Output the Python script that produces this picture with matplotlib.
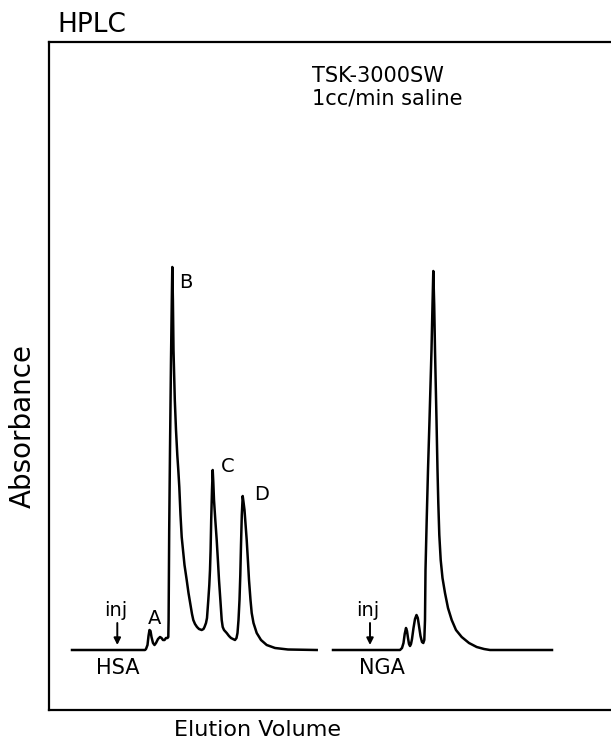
import matplotlib.pyplot as plt

# HSA chromatogram (elution volume, absorbance)
hsa_vol = [23, 96, 97, 98.5, 99.5, 100.5, 101.5, 102.5, 104, 105.5, 107, 109, 111,
           112.5, 114, 115.5, 117, 118.5, 119.3, 119.6, 120.2, 121, 122, 122.8,
           123.3, 123.9, 124.5, 125.8, 127, 128.3, 129.3, 130.3, 131.5, 132.7, 134,
           135.5, 137.7, 139.5, 141, 143, 144.3, 146, 148, 150, 152.7, 154.5, 155.5,
           157, 158, 159.3, 160.3, 161, 161.6, 162.2, 163, 163.7, 164.3, 165, 166.3,
           167.7, 169, 170, 171.5, 172.7, 173.7, 175, 177.7, 180, 182, 184, 186,
           187.5, 188.5, 189.5, 190.5, 191.3, 192, 192.8, 193.7, 194.5, 195.5, 196.6,
           197.7, 199, 200, 201.5, 202.7, 204.5, 207.7, 212, 217.7, 226, 239, 267.7]
hsa_abs = [0, 0, 1, 5, 14, 20, 19, 13, 7, 5, 7, 11, 13,
           12, 10, 10, 12, 12, 13, 30, 120, 200, 290, 350,
           383, 350, 300, 250, 220, 195, 180, 163, 135, 113, 100,
           85, 70, 57, 48, 36, 30, 26, 23, 21, 20, 21, 23,
           27, 32, 50, 65, 80, 100, 130, 160, 180, 168, 150, 130,
           110, 88, 70, 48, 30, 23, 20, 17, 14, 12, 11, 10,
           12, 17, 30, 50, 75, 105, 135, 154, 148, 140, 125,
           110, 88, 70, 50, 37, 27, 17, 10, 5, 2, 0.5, 0]

# NGA chromatogram
nga_vol = [284, 351, 353, 354.5, 355.7, 357, 358, 359, 360, 361, 362, 363, 364.5,
           366, 367.5, 368.8, 370, 371.5, 373, 374.3, 375.3, 376, 376.5, 377.7, 379,
           380.5, 382.5, 383.5, 384.3, 385.2, 386, 387.5, 388.5, 389.3, 390.3, 391.7,
           393.5, 396, 399, 402.7, 407, 412.7, 420, 427.7, 435, 441, 503]
nga_abs = [0, 0, 2, 7, 16, 22, 19, 12, 6, 4, 6, 11, 22,
           31, 35, 32, 24, 14, 8, 7, 10, 30, 80, 130, 180,
           230, 300, 345, 379, 345, 300, 230, 180, 147, 115, 90,
           72, 57, 42, 30, 20, 13, 7, 3, 1, 0, 0]

peak_names = ['A', 'B', 'C', 'D']
peak_pos = [(106, 31), (137, 367), (179, 183), (213, 155)]
inj_vol = [68.3, 321]
sample_names = ['HSA', 'NGA']
sample_pos = [69, 333]

fig = plt.figure(figsize=(6.11, 7.44), dpi=100)
ax = fig.add_axes([49 / 611, 34 / 744, 1 - 49 / 611, (710 - 42) / 744])
ax.set_xlim(0, 562)
ax.set_ylim(-60, 608)
for side in ['left', 'top', 'bottom']:
    ax.spines[side].set_linewidth(1.6)
ax.spines['right'].set_visible(False)
ax.set_xticks([])
ax.set_yticks([])

ax.plot(hsa_vol, hsa_abs, color='black', lw=1.8, solid_joinstyle='round')
ax.plot(nga_vol, nga_abs, color='black', lw=1.8, solid_joinstyle='round')

for name, (px, py) in zip(peak_names, peak_pos):
    ax.text(px, py, name, fontsize=14, ha='center', va='center')

for v, name, sx in zip(inj_vol, sample_names, sample_pos):
    ax.annotate('', xy=(v, 5), xytext=(v, 27),
                arrowprops=dict(arrowstyle='-|>', color='black', lw=1.4,
                                mutation_scale=10, shrinkA=0, shrinkB=0))
    ax.text(v - 2, 39, 'inj', fontsize=14, ha='center', va='center')
    ax.text(sx, -18, name, fontsize=15, ha='center', va='center')

ax.text(263, 568, 'TSK-3000SW', fontsize=15, ha='left', va='baseline')
ax.text(263, 546, '1cc/min saline', fontsize=15, ha='left', va='baseline')

fig.text(57 / 611, 1 - 32 / 744, 'HPLC', fontsize=19, ha='left', va='baseline')
fig.text(23 / 611, 1 - 426 / 744, 'Absorbance', fontsize=20, rotation=90,
         ha='center', va='center')
fig.text(257 / 611, 1 - 720 / 744, 'Elution Volume', fontsize=16,
         ha='center', va='top')

fig.savefig('out.png', dpi=100)
